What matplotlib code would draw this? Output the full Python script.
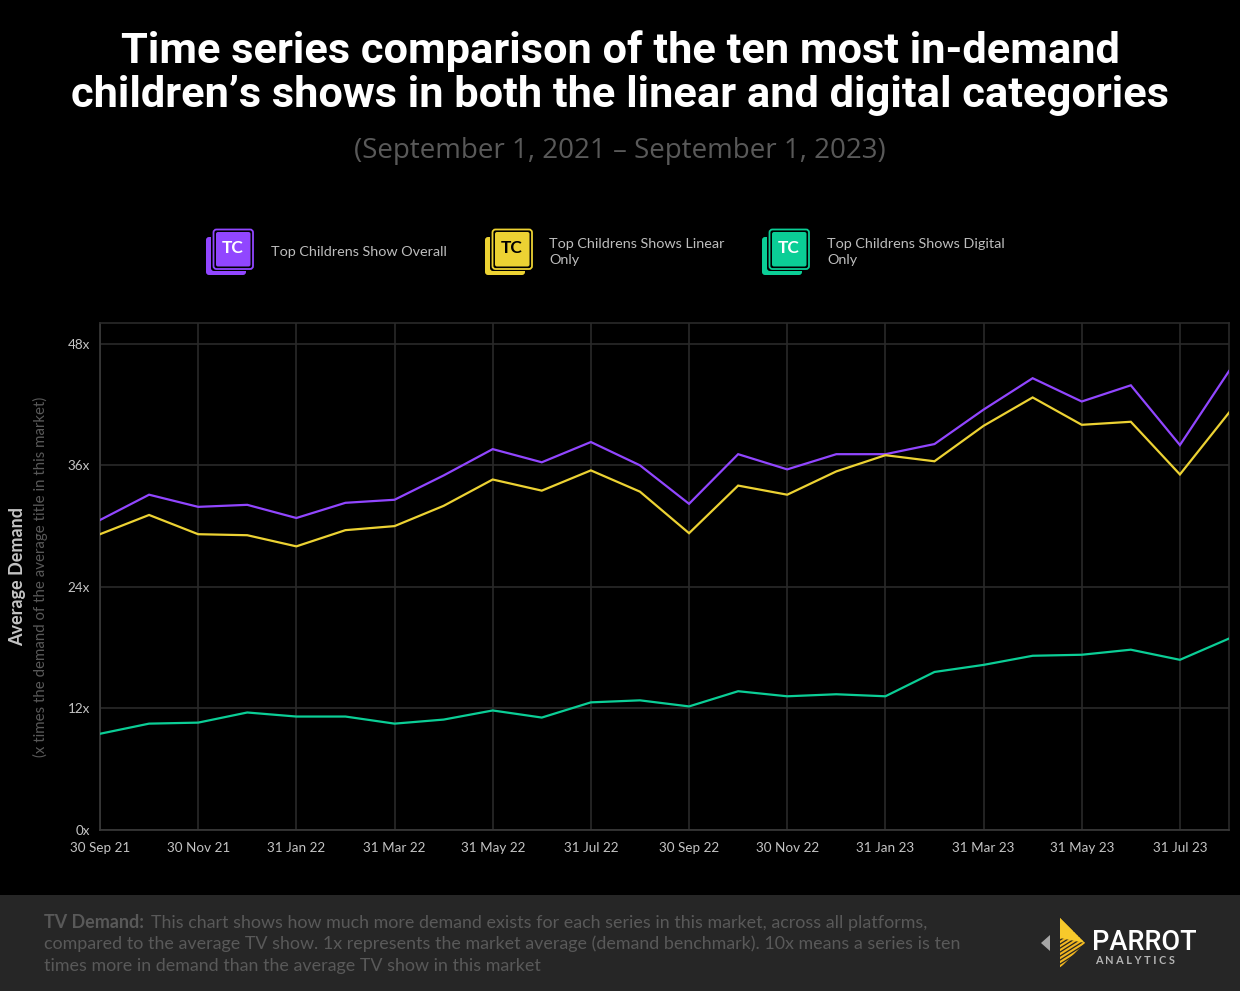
import numpy as np
import matplotlib.pyplot as plt
from matplotlib.patches import FancyBboxPatch, Polygon, Rectangle

# Valores
meses = ['30 Sep 21', '31 Oct 21', '30 Nov 21', '31 Dec 21', '31 Jan 22', '28 Feb 22',
         '31 Mar 22', '30 Apr 22', '31 May 22', '30 Jun 22', '31 Jul 22', '31 Aug 22',
         '30 Sep 22', '31 Oct 22', '30 Nov 22', '31 Dec 22', '31 Jan 23', '28 Feb 23',
         '31 Mar 23', '30 Apr 23', '31 May 23', '30 Jun 23', '31 Jul 23', '31 Aug 23']
overall = [30.6, 33.1, 31.9, 32.1, 30.8, 32.3, 32.6, 35.0, 37.6, 36.3, 38.3, 36.0,
           32.2, 37.1, 35.6, 37.1, 37.1, 38.1, 41.5, 44.6, 42.3, 43.9, 38.0, 45.3]
linear = [29.2, 31.1, 29.2, 29.1, 28.0, 29.6, 30.0, 32.0, 34.6, 33.5, 35.5, 33.4,
          29.3, 34.0, 33.1, 35.4, 37.0, 36.4, 39.9, 42.7, 40.0, 40.3, 35.1, 41.2]
digital = [9.5, 10.5, 10.6, 11.6, 11.2, 11.2, 10.5, 10.9, 11.8, 11.1, 12.6, 12.8,
           12.2, 13.7, 13.2, 13.4, 13.2, 15.6, 16.3, 17.2, 17.3, 17.8, 16.8, 18.9]
y_ticks = [0, 12, 24, 36, 48]
y_labels = ['0x', '12x', '24x', '36x', '48x']

MORADO = '#9146ff'
AMARILLO = '#ecd233'
VERDE = '#0bce96'
W, H = 1240, 991

plt.rcParams['font.family'] = ['Open Sans', 'DejaVu Sans']
fig = plt.figure(figsize=(W / 100, H / 100), dpi=100, facecolor='black')

# Capa de fondo en pixeles para textos, iconos y pie
bg = fig.add_axes([0, 0, 1, 1], zorder=0)
bg.set_xlim(0, W)
bg.set_ylim(H, 0)
bg.axis('off')
bg.add_patch(Rectangle((0, 895), W, 96, color='#262626', lw=0))

fuente_tit = ['Roboto', 'DejaVu Sans']
bg.text(620, 51, 'Time series comparison of the ten most in-demand', color='white',
        fontsize=31.25, fontweight='bold', ha='center', va='center', family=fuente_tit)
bg.text(620, 95, 'children\u2019s shows in both the linear and digital categories', color='white',
        fontsize=31.25, fontweight='bold', ha='center', va='center', family=fuente_tit)
bg.text(620, 151, '(September 1, 2021 \u2013 September 1, 2023)', color='#595959',
        fontsize=20, ha='center', va='center')


def icono(x, y, color, color_txt):
    # hoja de atras y hoja de delante
    bg.add_patch(FancyBboxPatch((x + 1, y + 8), 40, 38, boxstyle='round,pad=0,rounding_size=3',
                                fc=color, ec='none'))
    bg.add_patch(FancyBboxPatch((x + 6, y + 3), 44, 39, boxstyle='round,pad=0,rounding_size=3',
                                fc='black', ec='none'))
    bg.add_patch(FancyBboxPatch((x + 8.5, y + 0.5), 39.5, 39.5, boxstyle='round,pad=0,rounding_size=3',
                                fc='black', ec=color, lw=1.3))
    bg.add_patch(FancyBboxPatch((x + 11, y + 3), 34.5, 34.5, boxstyle='round,pad=0,rounding_size=2',
                                fc=color, ec='none'))
    bg.text(x + 28, y + 19, 'TC', color=color_txt, fontsize=12.5, fontweight='bold',
            ha='center', va='center', family=['Lato', 'DejaVu Sans'])


icono(205, 229, MORADO, 'white')
icono(484, 229, AMARILLO, 'black')
icono(761, 229, VERDE, 'white')
fuente_ley = ['Lato', 'DejaVu Sans']
bg.text(271, 252, 'Top Childrens Show Overall', color='#bdbdbd', fontsize=10.4,
        va='center', family=fuente_ley)
bg.text(549, 252, 'Top Childrens Shows Linear\nOnly', color='#bdbdbd', fontsize=10.4,
        va='center', linespacing=1.4, family=fuente_ley)
bg.text(827, 252, 'Top Childrens Shows Digital\nOnly', color='#bdbdbd', fontsize=10.4,
        va='center', linespacing=1.4, family=fuente_ley)

# Titulos del eje Y
bg.text(18, 577, 'Average Demand', color='#c4c4c4', fontsize=13, fontweight='bold',
        rotation=90, ha='center', va='center', family=fuente_ley)
bg.text(40, 577, '(x times the demand of the average title in this market)', color='#595959',
        fontsize=10.8, rotation=90, ha='center', va='center', family=fuente_ley)

# Grafico principal
ax = fig.add_axes([100 / W, 1 - 830 / H, 1129 / W, 507 / H], zorder=1)
ax.set_facecolor('none')
x = np.arange(len(meses))
ax.plot(x, overall, color=MORADO, lw=1.6, solid_joinstyle='miter', zorder=3)
ax.plot(x, linear, color=AMARILLO, lw=1.6, solid_joinstyle='miter', zorder=3)
ax.plot(x, digital, color=VERDE, lw=1.6, solid_joinstyle='miter', zorder=3)
ax.set_xlim(0, len(meses) - 1)
ax.set_ylim(0, 50.05)
ax.set_xticks(x[::2])
ax.set_xticklabels(meses[::2])
ax.set_yticks(y_ticks)
ax.set_yticklabels(y_labels)
ax.tick_params(length=0, colors='#c4c4c4', labelsize=9.7, labelfontfamily='Lato')
ax.tick_params(axis='x', pad=9)
ax.tick_params(axis='y', pad=7)
ax.grid(True, color='#2a2a2a', lw=1.2, zorder=1)
for s in ax.spines.values():
    s.set_color('#2a2a2a')
    s.set_linewidth(1.2)
ax.spines['left'].set_color('#3a3a3a')
ax.spines['bottom'].set_color('#3a3a3a')

# Pie de pagina
fuente_pie = 12.88
bg.text(44, 923, 'TV Demand:', color='#595959', fontsize=fuente_pie, fontweight='bold',
        va='center', family=fuente_ley)
bg.text(151, 923, 'This chart shows how much more demand exists for each series in this market, across all platforms,',
        color='#595959', fontsize=fuente_pie, va='center', family=fuente_ley)
bg.text(44, 944, 'compared to the average TV show. 1x represents the market average (demand benchmark). 10x means a series is ten',
        color='#595959', fontsize=fuente_pie, va='center', family=fuente_ley)
bg.text(44, 966, 'times more in demand than the average TV show in this market',
        color='#595959', fontsize=fuente_pie, va='center', family=fuente_ley)

# Logo
bg.add_patch(Polygon([(1050, 935), (1050, 951), (1041, 943)], fc='#a6a6a6', ec='none'))
bg.add_patch(Polygon([(1060, 918), (1085, 943), (1060, 968)], fc='#f2b61f', ec='none'))
for yy in range(940, 972, 4):
    bg.add_patch(Polygon([(1059, yy), (1086, yy - 17), (1086, yy - 15.5), (1059, yy + 1.5)],
                         fc='#262626', ec='none'))
bg.add_patch(Polygon([(1060, 918), (1085, 943), (1060, 938)], fc='#f7c92b', ec='none'))
bg.text(1144, 942, 'PARROT', color='white', fontsize=19.5, ha='center', va='center',
        fontweight='medium', family=['Roboto', 'DejaVu Sans'])
bg.text(1135, 961, ' '.join('ANALYTICS'), color='#b5b5b5', fontsize=7.8, ha='center', va='center',
        fontweight='bold', family=['Lato', 'DejaVu Sans'])

fig.savefig('out.png', dpi=100, facecolor='black')
